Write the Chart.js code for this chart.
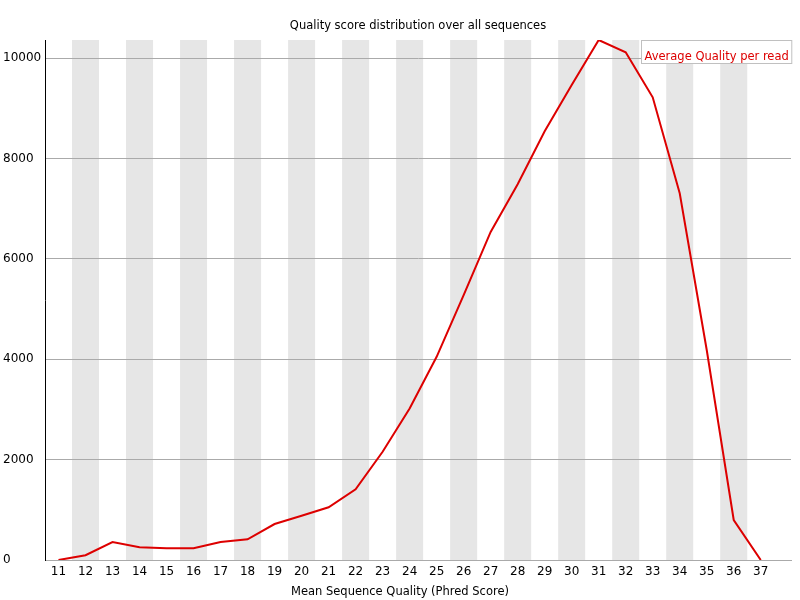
<!DOCTYPE html>
<html>
<head>
<meta charset="utf-8">
<script src="https://cdn.jsdelivr.net/npm/chart.js@4"></script>
<style>
  html, body { margin: 0; padding: 0; background: #ffffff; }
  #wrap { width: 800px; height: 600px; }
</style>
</head>
<body>
<div id="wrap"><canvas id="c" width="800" height="600"></canvas></div>
<script>
const chartTitle = "Quality score distribution over all sequences";
const xAxisTitle = "Mean Sequence Quality (Phred Score)";
const seriesLabel = "Average Quality per read";
const categories = [11,12,13,14,15,16,17,18,19,20,21,22,23,24,25,26,27,28,29,30,31,32,33,34,35,36,37];
const values = [0,95,359,253,233,233,359,412,717,883,1050,1408,2157,3021,4050,5279,6540,7490,8546,9468,10365,10120,9222,7309,4186,797,0];
const yTicks = [0,2000,4000,6000,8000,10000];

const FONT = "'DejaVu Sans', sans-serif";
const TEXT_FONT = '11.5px ' + FONT;

const stripes = {
  id: 'stripes',
  beforeDraw(chart) {
    const {ctx, chartArea, scales} = chart;
    const x = scales.x;
    ctx.save();
    ctx.fillStyle = '#e6e6e6';
    categories.forEach((c, i) => {
      if (i % 2 === 1) {
        const l = x.getPixelForValue(c - 0.5);
        const r = x.getPixelForValue(c + 0.5);
        ctx.fillRect(l, chartArea.top, r - l, chartArea.bottom - chartArea.top);
      }
    });
    ctx.restore();
  }
};

const texts = {
  id: 'texts',
  afterDraw(chart) {
    const {ctx, chartArea, width} = chart;
    ctx.save();
    ctx.font = TEXT_FONT;
    ctx.fillStyle = '#000000';
    ctx.textAlign = 'center';
    ctx.textBaseline = 'middle';
    ctx.fillText(chartTitle, (chartArea.left + chartArea.right) / 2, 26);
    ctx.fillText(xAxisTitle, width / 2, 592);

    const w = ctx.measureText(seriesLabel).width + 6;
    const h = 23;
    const x0 = Math.round(chartArea.right - w) + 0.5;
    const y0 = Math.round(chartArea.top) + 0.5;
    ctx.fillStyle = '#ffffff';
    ctx.fillRect(x0, y0, w, h);
    ctx.strokeStyle = '#c0c0c0';
    ctx.lineWidth = 1;
    ctx.strokeRect(x0, y0, w, h);
    ctx.fillStyle = '#dd0000';
    ctx.textAlign = 'left';
    ctx.fillText(seriesLabel, x0 + 3, y0 + 16.5);
    ctx.restore();
  }
};

new Chart(document.getElementById('c'), {
  type: 'line',
  data: {
    datasets: [{
      label: seriesLabel,
      data: categories.map((c, i) => ({x: c, y: values[i]})),
      borderColor: '#dd0000',
      borderWidth: 2,
      pointRadius: 0,
      tension: 0,
      fill: false
    }]
  },
  options: {
    responsive: false,
    animation: false,
    devicePixelRatio: 1,
    layout: { padding: { left: 3, right: 9, top: 40, bottom: 0 } },
    plugins: {
      legend: { display: false },
      tooltip: { enabled: false },
      title: { display: false }
    },
    scales: {
      x: {
        type: 'linear',
        min: 10.5,
        max: 38.12,
        afterBuildTicks(scale) { scale.ticks = categories.map(v => ({value: v})); },
        afterFit(scale) { scale.height = 40; },
        grid: { display: false, drawTicks: false },
        border: { display: true, color: '#aaaaaa', width: 1 },
        ticks: {
          color: '#000000',
          font: { family: FONT, size: 12 },
          padding: 5,
          maxRotation: 0,
          autoSkip: false,
          callback: v => String(v)
        },
        title: { display: false }
      },
      y: {
        min: 0,
        max: Math.max(...values),
        afterBuildTicks(scale) { scale.ticks = yTicks.map(v => ({value: v})); },
        afterFit(scale) { scale.width = 42; },
        grid: { color: '#aaaaaa', drawTicks: false, lineWidth: 1 },
        border: { display: true, color: '#000000', width: 1 },
        ticks: {
          color: '#000000',
          font: { family: FONT, size: 12 },
          crossAlign: 'far',
          padding: 0,
          callback: v => String(v)
        }
      }
    }
  },
  plugins: [stripes, texts]
});
</script>
</body>
</html>
